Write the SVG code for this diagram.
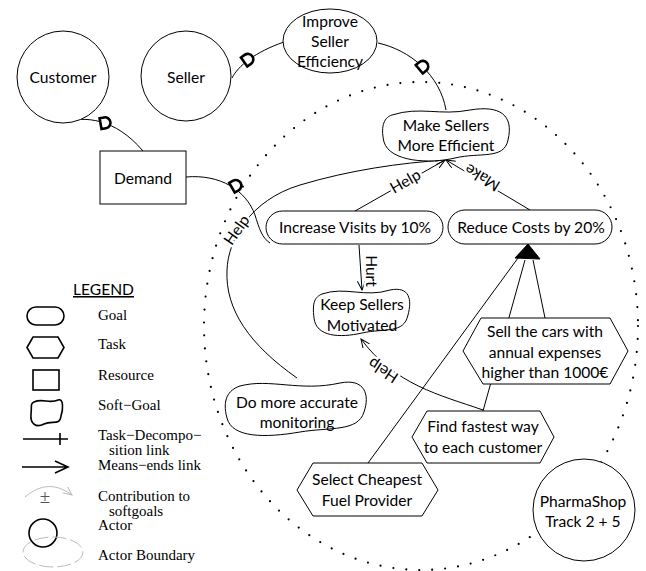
<svg xmlns="http://www.w3.org/2000/svg" xmlns:xlink="http://www.w3.org/1999/xlink" width="646" height="571" viewBox="0 0 646 571">
<style>
  .n { fill: #fff; stroke: #000; stroke-width: 1; }
  .t { font-family: Lato, "Open Sans", "Liberation Sans", sans-serif; font-size: 15.6px; fill: #000; text-anchor: middle; }
  .lbl { font-family: Lato, "Open Sans", "Liberation Sans", sans-serif; font-size: 15.6px; fill: #000; text-anchor: middle; paint-order: stroke; stroke: #fff; stroke-width: 5px; }
  .c { fill: none; stroke: #000; stroke-width: 1; }
  .lg { font-family: "Liberation Serif", "Times New Roman", serif; font-size: 15px; fill: #000; }
  .ls { fill: none; stroke: #000; stroke-width: 1.6; }
</style>
<defs>
  <marker id="arr" markerUnits="userSpaceOnUse" markerWidth="12" markerHeight="10" refX="9" refY="4" orient="auto">
    <path d="M0,0 L9,4 L0,8" fill="none" stroke="#000" stroke-width="1"/>
  </marker>
  <marker id="garr" markerUnits="userSpaceOnUse" markerWidth="12" markerHeight="10" refX="9" refY="4" orient="auto">
    <path d="M0,0 L9,4 L0,8" fill="none" stroke="#bbb" stroke-width="1"/>
  </marker>
  <path id="dep" d="M-3.5,-5.5 L1,-5.5 A5.5,5.5 0 0 1 1,5.5 L-3.5,5.5 Z" fill="#fff" stroke="#000" stroke-width="2.6"/>
</defs>
<rect width="646" height="571" fill="#fff"/>

<!-- actor boundary -->
<ellipse id="boundary" cx="421" cy="326" rx="217" ry="244" fill="none" stroke="#000" stroke-width="2.2" stroke-linecap="round" stroke-dasharray="0 13"/>

<g id="connectors">
  <!-- dependencies -->
  <path class="c" d="M232,78 C238,66 255,52 284,42"/>
  <use xlink:href="#dep" transform="translate(247,60) rotate(-35)"/>
  <path class="c" d="M378,43 C410,50 440,75 446,110"/>
  <use xlink:href="#dep" transform="translate(422,67) rotate(-40)"/>
  <path class="c" d="M64,122 C85,116 115,118 143,151"/>
  <use xlink:href="#dep" transform="translate(104,123) rotate(-10)"/>
  <path class="c" d="M186,177 C220,174 246,190 255,215 C259,228 262,238 270,243"/>
  <use xlink:href="#dep" transform="translate(235,186) rotate(-30)"/>

  <!-- contributions -->
  <path class="c" d="M355,211 L445,160" marker-end="url(#arr)"/>
  <text class="lbl" transform="translate(408,186) rotate(-30)">Help</text>
  <path class="c" d="M530,210 L446,160" marker-end="url(#arr)"/>
  <text class="lbl" transform="translate(485,173) rotate(211)">Make</text>
  <path class="c" d="M297,378 C250,345 225,310 227,270 C228,240 250,200 300,185 C350,170 400,163 445,160" marker-end="url(#arr)"/>
  <text class="lbl" transform="translate(241,233) rotate(-55)">Help</text>
  <path class="c" d="M359,245 L362,290" marker-end="url(#arr)"/>
  <text class="lbl" transform="translate(366,271) rotate(90)">Hurt</text>
  <path class="c" d="M483,410 C440,395 395,385 361,339" marker-end="url(#arr)"/>
  <text class="lbl" transform="translate(386,366) rotate(213)">Help</text>

  <!-- decomposition -->
  <path class="c" d="M368,463 L518,258"/>
  <path class="c" d="M483,411 L525,260"/>
  <path class="c" d="M545,318 L533,260"/>
  <path d="M528,244 L515,258 L540,259 Z" fill="#000" stroke="#000" stroke-width="1"/>
</g>

<g id="customer"><circle class="n" cx="63" cy="77" r="46"/><text class="t" x="63" y="83">Customer</text></g>
<g id="seller"><circle class="n" cx="186" cy="76" r="45"/><text class="t" x="186" y="83">Seller</text></g>
<g id="improve"><ellipse class="n" cx="330" cy="41" rx="47" ry="32"/>
  <text class="t" x="330" y="27">Improve</text><text class="t" x="330" y="47">Seller</text><text class="t" x="330" y="67">Efficiency</text></g>
<g id="demand"><rect class="n" x="100" y="151" width="86" height="53"/><text class="t" x="143" y="184">Demand</text></g>
<g id="make-efficient"><path class="n" d="M392,115 C420,106 440,116 470,110 C500,105 514,115 508,140 C504,160 480,152 455,158 C430,164 390,162 384,142 C380,125 385,117 392,115 Z"/>
  <text class="t" x="446" y="131">Make Sellers</text><text class="t" x="446" y="151">More Efficient</text></g>
<g id="increase-visits"><rect class="n" x="266" y="211" width="177" height="33" rx="16.5"/><text class="t" x="355" y="233">Increase Visits by 10%</text></g>
<g id="reduce-costs"><rect class="n" x="448" y="210" width="164" height="34" rx="17"/><text class="t" x="531" y="233">Reduce Costs by 20%</text></g>
<g id="keep-motivated"><path class="n" d="M322,294 C345,286 365,298 390,290 C410,286 412,300 408,315 C404,334 385,328 362,333 C340,338 316,337 314,318 C312,302 315,297 322,294 Z"/>
  <text class="t" x="362" y="310">Keep Sellers</text><text class="t" x="362" y="331">Motivated</text></g>
<g id="sell-cars"><polygon class="n" points="463,351 481,318 610,318 628,351 610,384 483,384"/>
  <text class="t" x="545" y="337">Sell the cars with</text><text class="t" x="545" y="358">annual expenses</text><text class="t" x="545" y="378">higher than 1000€</text></g>
<g id="find-fastest"><polygon class="n" points="412,437 427,411 540,411 554,437 540,463 427,463"/>
  <text class="t" x="483" y="432">Find fastest way</text><text class="t" x="483" y="453">to each customer</text></g>
<g id="select-fuel"><polygon class="n" points="297,490 313,463 422,463 438,490 422,516 313,516"/>
  <text class="t" x="367" y="485">Select Cheapest</text><text class="t" x="367" y="506">Fuel Provider</text></g>
<g id="monitoring"><path class="n" d="M240,386 C270,378 300,392 340,383 C365,378 370,395 364,412 C358,432 330,427 300,432 C265,438 232,438 227,418 C222,400 228,390 240,386 Z"/>
  <text class="t" x="297" y="408">Do more accurate</text><text class="t" x="297" y="428">monitoring</text></g>
<g id="pharmashop"><circle class="n" cx="584" cy="510" r="51"/>
  <text class="t" x="583" y="507">PharmaShop</text><text class="t" x="583" y="527">Track 2 + 5</text></g>

<g id="legend">
  <text x="73" y="295" style="font-family: Lato, 'Liberation Sans', sans-serif; font-size: 15.6px; text-decoration: underline;">LEGEND</text>
  <rect class="ls" x="27" y="307" width="37" height="18" rx="9"/>
  <text class="lg" x="98" y="320">Goal</text>
  <polygon class="ls" points="27,347.5 33,337 58,337 64,347.5 58,358 33,358"/>
  <text class="lg" x="98" y="349">Task</text>
  <rect class="ls" x="33" y="370" width="26" height="20"/>
  <text class="lg" x="98" y="380">Resource</text>
  <path class="ls" d="M34,402 C42,398 50,404 58,400 C64,398 63,410 61,416 C60,426 52,420 44,424 C36,428 30,424 31,414 C32,406 30,404 34,402 Z"/>
  <text class="lg" x="98" y="410">Soft−Goal</text>
  <path class="ls" d="M23,439 L68,439 M60,433 L60,445"/>
  <text class="lg" x="98" y="440">Task−Decompo−</text>
  <text class="lg" x="109" y="455">sition link</text>
  <path class="ls" d="M22,467 L68,467 M55,461 L68,467 L55,473"/>
  <text class="lg" x="98" y="470">Means−ends link</text>
  <path d="M25,497 Q48,477 72,495" fill="none" stroke="#bbb" stroke-width="1" marker-end="url(#garr)"/>
  <text x="45" y="503" style="font-family: 'Liberation Serif', serif; font-size: 19px; fill: #555; text-anchor: middle;">±</text>
  <text class="lg" x="98" y="501">Contribution to</text>
  <text class="lg" x="109" y="516">softgoals</text>
  <circle class="ls" cx="43" cy="533" r="14"/>
  <text class="lg" x="98" y="530">Actor</text>
  <ellipse cx="53" cy="552" rx="30" ry="15" fill="none" stroke="#bbb" stroke-width="1" stroke-dasharray="14 4"/>
  <text class="lg" x="98" y="560">Actor Boundary</text>
</g>
</svg>
